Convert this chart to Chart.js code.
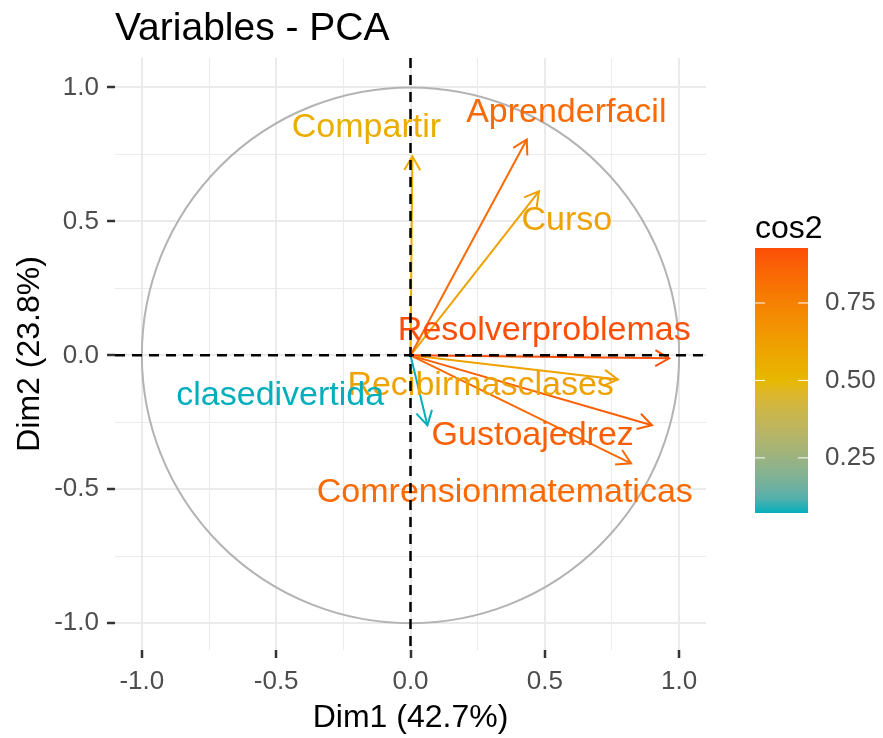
<!DOCTYPE html>
<html>
<head>
<meta charset="utf-8">
<script src="https://cdn.jsdelivr.net/npm/chart.js@4.4.0/dist/chart.umd.min.js"></script>
<style>
  html, body { margin: 0; padding: 0; background: #fff; }
</style>
</head>
<body>
<canvas id="myChart" width="883" height="738"></canvas>
<script>
// variable coordinates
const variables = ['Compartir', 'Aprenderfacil', 'Curso', 'Resolverproblemas',
                   'Recibirmasclases', 'Gustoajedrez', 'Comrensionmatematicas', 'clasedivertida'];
const dim1 = [0.007, 0.433, 0.478, 0.963, 0.772, 0.899, 0.821, 0.063];
const dim2 = [0.743, 0.806, 0.612, -0.011, -0.090, -0.261, -0.403, -0.261];
// where each name sits (data units)
const labelX = [-0.164, 0.580, 0.582, 0.498, 0.261, 0.455, 0.351, -0.485];
const labelY = [0.851, 0.907, 0.504, 0.093, -0.112, -0.299, -0.511, -0.149];

const legendTicks = [0.25, 0.50, 0.75];
const gradientCols = ['#00AFBB', '#E7B800', '#FC4E07'];

const FONT = '"Liberation Sans", Arial, sans-serif';

const cos2 = dim1.map((v, i) => v * v + dim2[i] * dim2[i]);
const cmin = Math.min(...cos2);
const cmax = Math.max(...cos2);

// colour interpolation in Lab, like ggplot's gradientn
function hexToRgb(h) {
    return [parseInt(h.slice(1, 3), 16), parseInt(h.slice(3, 5), 16), parseInt(h.slice(5, 7), 16)];
}
function rgbToLab(rgb) {
    const lin = rgb.map(v => { v /= 255; return v <= 0.04045 ? v / 12.92 : Math.pow((v + 0.055) / 1.055, 2.4); });
    let X = (lin[0] * 0.4124 + lin[1] * 0.3576 + lin[2] * 0.1805) / 0.95047;
    let Y = (lin[0] * 0.2126 + lin[1] * 0.7152 + lin[2] * 0.0722);
    let Z = (lin[0] * 0.0193 + lin[1] * 0.1192 + lin[2] * 0.9505) / 1.08883;
    const f = t => t > 0.008856 ? Math.cbrt(t) : 7.787 * t + 16 / 116;
    X = f(X); Y = f(Y); Z = f(Z);
    return [116 * Y - 16, 500 * (X - Y), 200 * (Y - Z)];
}
function labToRgb(lab) {
    const fy = (lab[0] + 16) / 116, fx = fy + lab[1] / 500, fz = fy - lab[2] / 200;
    const inv = t => t * t * t > 0.008856 ? t * t * t : (t - 16 / 116) / 7.787;
    const X = inv(fx) * 0.95047, Y = inv(fy), Z = inv(fz) * 1.08883;
    let r = X * 3.2406 + Y * -1.5372 + Z * -0.4986;
    let g = X * -0.9689 + Y * 1.8758 + Z * 0.0415;
    let b = X * 0.0557 + Y * -0.2040 + Z * 1.0570;
    return [r, g, b].map(v => {
        v = v <= 0.0031308 ? 12.92 * v : 1.055 * Math.pow(v, 1 / 2.4) - 0.055;
        return Math.round(Math.max(0, Math.min(1, v)) * 255);
    });
}
const labCols = gradientCols.map(c => rgbToLab(hexToRgb(c)));
function colorAt(t) {
    t = Math.max(0, Math.min(1, t));
    const n = labCols.length - 1;
    const seg = Math.min(n - 1, Math.floor(t * n));
    const f = t * n - seg;
    const a = labCols[seg], b = labCols[seg + 1];
    const m = labToRgb(a.map((v, k) => v + (b[k] - v) * f));
    return 'rgb(' + m.join(',') + ')';
}
const colorFor = c => colorAt((c - cmin) / (cmax - cmin));
const cols = cos2.map(colorFor);

const isMajor = v => Math.abs(v * 2 - Math.round(v * 2)) < 1e-6;

const pcaPlugin = {
    id: 'pca',
    beforeDatasetsDraw(chart) {
        const { ctx, scales: { x, y } } = chart;
        const cx = x.getPixelForValue(0), cy = y.getPixelForValue(0);
        ctx.save();
        ctx.beginPath();
        ctx.ellipse(cx, cy, x.getPixelForValue(1) - cx, cy - y.getPixelForValue(1), 0, 0, 2 * Math.PI);
        ctx.strokeStyle = '#B3B3B3';
        ctx.lineWidth = 2;
        ctx.stroke();
        ctx.restore();
    },
    afterDatasetsDraw(chart) {
        const { ctx, scales: { x, y }, chartArea } = chart;
        const ox = x.getPixelForValue(0), oy = y.getPixelForValue(0);
        ctx.save();
        // arrow heads
        variables.forEach((v, i) => {
            const tx = x.getPixelForValue(dim1[i]), ty = y.getPixelForValue(dim2[i]);
            const ang = Math.atan2(ty - oy, tx - ox);
            const len = 16, spread = Math.PI / 6;
            ctx.beginPath();
            ctx.moveTo(tx - len * Math.cos(ang - spread), ty - len * Math.sin(ang - spread));
            ctx.lineTo(tx, ty);
            ctx.lineTo(tx - len * Math.cos(ang + spread), ty - len * Math.sin(ang + spread));
            ctx.strokeStyle = cols[i];
            ctx.lineWidth = 2;
            ctx.stroke();
        });
        // names
        ctx.font = '34px ' + FONT;
        ctx.textAlign = 'center';
        ctx.textBaseline = 'middle';
        variables.forEach((v, i) => {
            ctx.fillStyle = cols[i];
            ctx.fillText(v, x.getPixelForValue(labelX[i]), y.getPixelForValue(labelY[i]));
        });
        // dashed zero lines
        ctx.setLineDash([10, 7]);
        ctx.strokeStyle = '#000';
        ctx.lineWidth = 2.5;
        ctx.beginPath();
        ctx.moveTo(ox, chartArea.top);
        ctx.lineTo(ox, chartArea.bottom);
        ctx.moveTo(chartArea.left, oy);
        ctx.lineTo(chartArea.right, oy);
        ctx.stroke();
        ctx.restore();
    },
    afterDraw(chart) {
        const ctx = chart.ctx;
        ctx.save();
        // title
        ctx.fillStyle = '#000';
        ctx.font = '39px ' + FONT;
        ctx.textAlign = 'left';
        ctx.textBaseline = 'alphabetic';
        ctx.fillText('Variables - PCA', 115, 40);
        // colour bar
        const bx = 755, bw = 53, top = 248, bottom = 513;
        const g = ctx.createLinearGradient(0, bottom, 0, top);
        for (let k = 0; k <= 20; k++) g.addColorStop(k / 20, colorAt(k / 20));
        ctx.fillStyle = g;
        ctx.fillRect(bx, top, bw, bottom - top);
        ctx.font = '32px ' + FONT;
        ctx.fillStyle = '#000';
        ctx.fillText('cos2', 755, 238);
        ctx.font = '26px ' + FONT;
        ctx.textBaseline = 'middle';
        legendTicks.forEach(v => {
            const py = bottom - (v - cmin) / (cmax - cmin) * (bottom - top);
            ctx.strokeStyle = '#fff';
            ctx.lineWidth = 1;
            ctx.beginPath();
            ctx.moveTo(bx, py); ctx.lineTo(bx + 10, py);
            ctx.moveTo(bx + bw - 10, py); ctx.lineTo(bx + bw, py);
            ctx.stroke();
            ctx.fillStyle = '#4D4D4D';
            ctx.fillText(v.toFixed(2), 825, py);
        });
        ctx.restore();
    }
};

function axisOptions(min, max, titleText, isX) {
    return {
        type: 'linear',
        min: min,
        max: max,
        border: { display: false },
        ticks: {
            stepSize: 0.25,
            includeBounds: false,
            autoSkip: false,
            maxRotation: 0,
            padding: 8,
            color: '#4D4D4D',
            font: { family: FONT, size: 26 },
            callback: v => isMajor(v) ? v.toFixed(1) : ''
        },
        grid: {
            color: '#EBEBEB',
            lineWidth: c => (c.tick && isMajor(c.tick.value)) ? 2 : 1,
            tickColor: c => (c.tick && isMajor(c.tick.value)) ? '#333333' : 'rgba(0,0,0,0)',
            tickLength: 8,
            tickWidth: 2.5
        },
        title: {
            display: true,
            text: titleText,
            color: '#000',
            font: { family: FONT, size: 32 },
            padding: isX ? { top: 0, bottom: 1 } : { top: 11, bottom: 0 }
        },
        afterFit: s => { if (isX) { s.height = 88; } else { s.width = 115; } }
    };
}

const data = {
    datasets: variables.map((v, i) => ({
        label: v,
        data: [{ x: 0, y: 0 }, { x: dim1[i], y: dim2[i] }],
        showLine: true,
        borderColor: cols[i],
        borderWidth: 2,
        pointRadius: 0,
        fill: false
    }))
};

const config = {
    type: 'scatter',
    data: data,
    options: {
        responsive: false,
        animation: false,
        devicePixelRatio: 1,
        layout: { padding: { top: 58, right: 177, bottom: 0, left: 0 } },
        scales: {
            x: axisOptions(-1.1, 1.1, 'Dim1 (42.7%)', true),
            y: axisOptions(-1.1, 1.11, 'Dim2 (23.8%)', false)
        },
        plugins: {
            legend: { display: false },
            tooltip: { enabled: false }
        }
    },
    plugins: [pcaPlugin]
};

const myChart = new Chart(document.getElementById('myChart'), config);
</script>
</body>
</html>
